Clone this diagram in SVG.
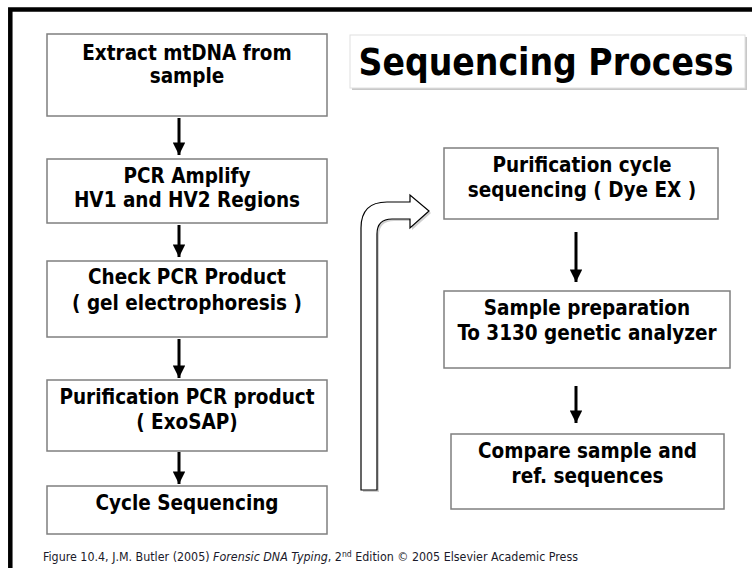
<svg xmlns="http://www.w3.org/2000/svg" width="752" height="568" viewBox="0 0 752 568">
<style>
.box{fill:#fff;stroke:#7f7f7f;stroke-width:1.5}
.t{font-family:"DejaVu Sans Condensed","DejaVu Sans",sans-serif;font-weight:bold;font-size:20.5px;fill:#000;text-anchor:middle}
.arr{stroke:#000;stroke-width:3;fill:none}
.foot{font-family:"DejaVu Sans Condensed","DejaVu Sans",sans-serif;font-size:11.5px;fill:#1a1a2a}
</style>
<defs>
<marker id="ah" viewBox="0 0 10 10" refX="10" refY="5" markerWidth="4.2" markerHeight="4.2" markerUnits="strokeWidth" orient="auto">
<path d="M0,0 L10,5 L0,10 Z" fill="#000"/>
</marker>
</defs>
<rect width="752" height="568" fill="#fff"/>
<rect x="10.3" y="9.5" width="780" height="600" fill="none" stroke="#000" stroke-width="4.5"/>

<g id="title">
<rect x="352" y="37" width="395" height="53" fill="#c8c8c8"/>
<rect x="350" y="35" width="395" height="53" fill="#fff" stroke="#e0e0e0" stroke-width="1"/>
<text x="546" y="75" font-family="DejaVu Sans Condensed,DejaVu Sans,sans-serif" font-weight="bold" font-size="37" text-anchor="middle" textLength="375" lengthAdjust="spacingAndGlyphs">Sequencing Process</text>
</g>

<g id="n1"><rect class="box" x="47" y="34" width="280" height="82"/>
<text class="t" x="187" y="60">Extract mtDNA from</text><text class="t" x="187" y="83">sample</text></g>
<g id="n2"><rect class="box" x="47" y="159" width="280" height="64"/>
<text class="t" x="187" y="183">PCR Amplify</text><text class="t" x="187" y="207">HV1 and HV2 Regions</text></g>
<g id="n3"><rect class="box" x="47" y="261" width="280" height="76"/>
<text class="t" x="187" y="284">Check PCR Product</text><text class="t" x="187" y="310">( gel electrophoresis )</text></g>
<g id="n4"><rect class="box" x="47" y="380" width="280" height="71"/>
<text class="t" x="187" y="404">Purification PCR product</text><text class="t" x="187" y="429">( ExoSAP)</text></g>
<g id="n5"><rect class="box" x="47" y="486" width="280" height="48"/>
<text class="t" x="187" y="510">Cycle Sequencing</text></g>
<g id="n6"><rect class="box" x="444" y="148" width="274" height="71"/>
<text class="t" x="582" y="172">Purification cycle</text><text class="t" x="582" y="197">sequencing ( Dye EX )</text></g>
<g id="n7"><rect class="box" x="444" y="291" width="286" height="77"/>
<text class="t" x="587" y="315">Sample preparation</text><text class="t" x="587" y="340">To 3130 genetic analyzer</text></g>
<g id="n8"><rect class="box" x="451" y="434" width="273" height="75"/>
<text class="t" x="587.5" y="458">Compare sample and</text><text class="t" x="587.5" y="483">ref. sequences</text></g>

<g id="connectors">
<line class="arr" x1="179" y1="118" x2="179" y2="155" marker-end="url(#ah)"/>
<line class="arr" x1="179" y1="225" x2="179" y2="257" marker-end="url(#ah)"/>
<line class="arr" x1="179" y1="339" x2="179" y2="378" marker-end="url(#ah)"/>
<line class="arr" x1="179" y1="452" x2="179" y2="484" marker-end="url(#ah)"/>
<line class="arr" x1="576" y1="232" x2="576" y2="282" marker-end="url(#ah)"/>
<line class="arr" x1="576" y1="386" x2="576" y2="423" marker-end="url(#ah)"/>
<path d="M363,492 L363,230 Q363,204 389,204 L412,204 L412,197 L431,213 L412,230 L412,221 L394,221 Q379,221 379,236 L379,492 Z" fill="#d0d0d0"/>
<path d="M361,490 L361,228 Q361,202 387,202 L410,202 L410,195 L429,211 L410,228 L410,219 L392,219 Q377,219 377,234 L377,490 Z" fill="#fff" stroke="#000" stroke-width="1.2"/>
</g>

<text class="foot" x="43" y="561" textLength="535" lengthAdjust="spacingAndGlyphs">Figure 10.4, J.M. Butler (2005) <tspan font-style="italic">Forensic DNA Typing</tspan>, 2<tspan font-size="8" dy="-4">nd</tspan><tspan dy="4"> Edition © 2005 Elsevier Academic Press</tspan></text>
</svg>
